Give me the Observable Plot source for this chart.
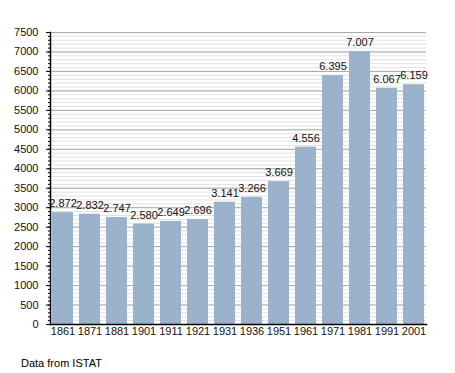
<!DOCTYPE html>
<html><head><meta charset="utf-8">
<script src="https://cdn.jsdelivr.net/npm/d3@7"></script>
<script src="https://cdn.jsdelivr.net/npm/@observablehq/plot@0.6"></script>
<style>
body{margin:0;background:#fff;font-family:"Liberation Sans",Arial,sans-serif;}
#cap{font-size:11px;line-height:14px;margin-left:21px;margin-top:4px;color:#000;}
</style></head><body>
<div id="chart"></div>
<div id="cap">Data from ISTAT</div>
<script>
const years = ["1861","1871","1881","1901","1911","1921","1931","1936","1951","1961","1971","1981","1991","2001"];
const population = [2872,2832,2747,2580,2649,2696,3141,3266,3669,4556,6395,7007,6067,6159];
const majorTicks = d3.range(0, 7501, 500);
const minorTicks = d3.range(0, 7501, 100);

const data = years.map((y,i)=>({year:y, pop:population[i]}));
const fmt = d3.formatLocale({thousands:".", grouping:[3], decimal:","}).format(",d");

const plot = Plot.plot({
  width: 455, height: 352,
  marginLeft: 50, marginRight: 29, marginTop: 32, marginBottom: 28,
  style:{fontFamily:'"Liberation Sans",Arial,sans-serif', fontSize:"11px", color:"#111", background:"#fff"},
  x:{domain: years, paddingInner: 0.22, paddingOuter: 0.06, label:null},
  y:{domain:[0,7500], label:null},
  marks:[
    Plot.ruleY(minorTicks, {stroke:"#e2e2e2", strokeWidth:1}),
    Plot.ruleY(majorTicks, {stroke:"#aaaaaa", strokeWidth:1}),
    Plot.barY(data, {x:"year", y:"pop", fill:"#9ab2cb"}),
    Plot.text(data, {x:"year", y:"pop", text:d=>fmt(d.pop), dy:-9, fill:"#111"}),
    Plot.axisY({ticks: minorTicks, tickSize:2, tickFormat:()=>"", stroke:"#000"}),
    Plot.axisY({ticks: majorTicks, tickSize:4, tickPadding:8, tickFormat:d=>String(d), stroke:"#000", fill:"#111"}),
    Plot.axisX({tickSize:0, tickPadding:3, fill:"#111"}),
    Plot.frame({anchor:"left", stroke:"#000", strokeWidth:1.5}),
    Plot.frame({anchor:"bottom", stroke:"#000", strokeWidth:1.5})
  ]
});
document.getElementById("chart").appendChild(plot);
</script>
</body></html>
